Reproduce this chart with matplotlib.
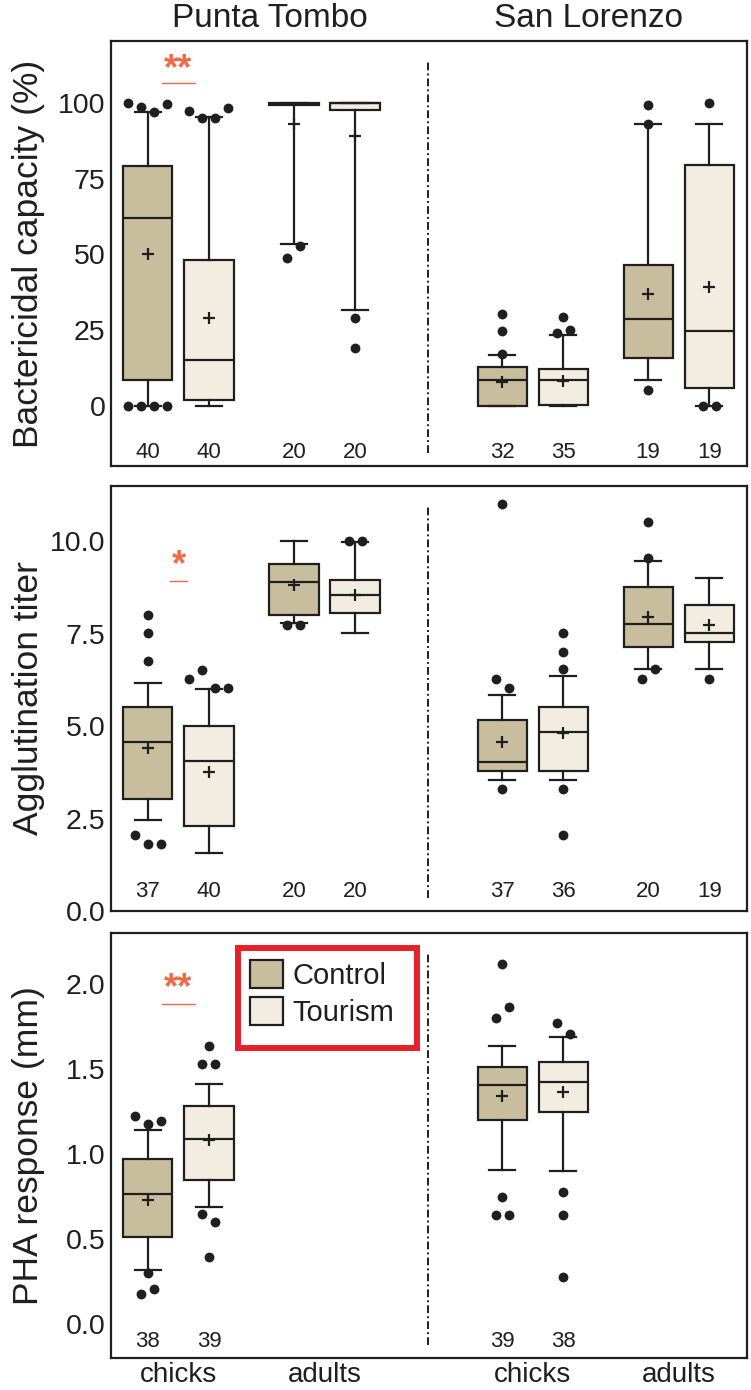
import numpy as np
import matplotlib
matplotlib.use("Agg")
import matplotlib.pyplot as plt
from matplotlib.patches import Patch, Rectangle

plt.rcParams["font.family"] = ["Liberation Sans", "DejaVu Sans"]

# ---------------------------------------------------------------
# Data (box order: PT chicks C, PT chicks T, PT adults C, PT adults T,
#                  SL chicks C, SL chicks T, SL adults C, SL adults T)
# ---------------------------------------------------------------
SITES = ["Punta Tombo", "San Lorenzo"]
AGES = ["chicks", "adults"]
TREATMENTS = ["Control", "Tourism"]

# Bactericidal capacity (%)
BKA_Q1 = [8.6, 2.0, 99.3, 97.8, 0.0, 0.2, 15.7, 5.7]
BKA_MED = [62.0, 15.0, 99.7, 100.0, 8.3, 8.3, 28.7, 24.6]
BKA_Q3 = [79.2, 48.2, 100.0, 100.0, 12.6, 12.1, 46.6, 79.5]
BKA_LO = [0.0, 0.0, 53.5, 31.5, 0.0, 0.0, 8.3, 0.0]
BKA_HI = [96.9, 95.5, 100.0, 100.0, 16.6, 23.4, 93.2, 93.0]
BKA_MEAN = [50.0, 29.0, 93.0, 89.1, 7.7, 8.0, 37.0, 39.2]
BKA_OUT = [[100.1, 98.6, 97.1, 99.6, 0, 0, 0, 0], [97.4, 95.0, 95.0, 98.2],
           [48.9, 52.6], [28.9, 19.0], [30.4, 24.8, 16.9], [29.3, 23.9, 25.0],
           [99.3, 93.0, 5.2], [99.9, 0, 0]]
BKA_N = [40, 40, 20, 20, 32, 35, 19, 19]

# Agglutination titer
AGG_Q1 = [3.04, 2.30, 8.02, 8.07, 3.79, 3.79, 7.14, 7.28]
AGG_MED = [4.56, 4.05, 8.90, 8.54, 4.04, 4.84, 7.77, 7.51]
AGG_Q3 = [5.53, 5.00, 9.39, 8.95, 5.16, 5.53, 8.76, 8.27]
AGG_LO = [2.46, 1.56, 7.78, 7.53, 3.54, 3.54, 6.54, 6.54]
AGG_HI = [6.18, 6.00, 10.0, 9.98, 5.84, 6.36, 9.47, 9.02]
AGG_MEAN = [4.42, 3.75, 8.81, 8.54, 4.56, 4.81, 7.96, 7.75]
AGG_OUT = [[8.02, 7.53, 6.77, 2.05, 1.81, 1.81], [6.29, 6.52, 6.02, 6.02],
           [7.75, 7.75], [10.0, 10.0], [11.0, 6.29, 6.03, 3.29],
           [7.53, 7.02, 6.54, 3.29, 2.05], [10.52, 9.54, 6.29, 6.54], [6.29]]
AGG_N = [37, 40, 20, 20, 37, 36, 20, 19]

# PHA response (mm) - no adults measured
PHA_Q1 = [0.514, 0.847, None, None, 1.202, 1.247, None, None]
PHA_MED = [0.765, 1.086, None, None, 1.406, 1.425, None, None]
PHA_Q3 = [0.97, 1.284, None, None, 1.514, 1.541, None, None]
PHA_LO = [0.32, 0.69, None, None, 0.906, 0.902, None, None]
PHA_HI = [1.143, 1.41, None, None, 1.637, 1.686, None, None]
PHA_MEAN = [0.73, 1.08, None, None, 1.339, 1.362, None, None]
PHA_OUT = [[1.225, 1.176, 1.196, 0.30, 0.176, 0.206],
           [1.637, 1.53, 1.53, 0.647, 0.598, 0.396], None, None,
           [2.118, 1.798, 1.866, 0.749, 0.643, 0.643],
           [1.77, 1.705, 0.774, 0.643, 0.274], None, None]
PHA_N = [38, 39, None, None, 39, 38, None, None]

PANELS = [
    dict(ylabel="Bactericidal capacity (%)", q1=BKA_Q1, med=BKA_MED, q3=BKA_Q3,
         lo=BKA_LO, hi=BKA_HI, mean=BKA_MEAN, out=BKA_OUT, n=BKA_N,
         ylim=(-20, 120.5), yticks=[0, 25, 50, 75, 100], fmt="{:.0f}",
         sig="**", sig_y=111.0, sig_line=106.7, sig_half=0.116, n_y=0.033),
    dict(ylabel="Agglutination titer", q1=AGG_Q1, med=AGG_MED, q3=AGG_Q3,
         lo=AGG_LO, hi=AGG_HI, mean=AGG_MEAN, out=AGG_OUT, n=AGG_N,
         ylim=(0, 11.5), yticks=[0, 2.5, 5.0, 7.5, 10.0], fmt="{:.1f}",
         sig="*", sig_y=9.33, sig_line=8.94, sig_half=0.058, n_y=0.045),
    dict(ylabel="PHA response (mm)", q1=PHA_Q1, med=PHA_MED, q3=PHA_Q3,
         lo=PHA_LO, hi=PHA_HI, mean=PHA_MEAN, out=PHA_OUT, n=PHA_N,
         ylim=(-0.2, 2.3), yticks=[0, 0.5, 1.0, 1.5, 2.0], fmt="{:.1f}",
         sig="**", sig_y=1.975, sig_line=1.88, sig_half=0.116, n_y=0.038),
]

# ---------------------------------------------------------------
# Layout / style
# ---------------------------------------------------------------
GROUP_X = [0.0, 1.0, 2.425, 3.425]   # PT chicks, PT adults, SL chicks, SL adults
OFFSET = 0.209
BOX_W = 0.336
CAP_W = 0.178
XLIM = (-0.462, 3.894)
SITE_SPLIT = 1.712

FILL = {"Control": "#c8bd9c", "Tourism": "#f2ede0"}
INK = "#1f1f1f"
SIG_COLOR = "#ee6a4a"
DOT_STEP_PX = 13
DOT_TOL_PX = 12

AX_LEFT, AX_WIDTH = 0.1478, 0.847
AX_BOTTOMS = [0.6647, 0.3446, 0.0230]
AX_HEIGHT = 0.3058


def box_positions():
    pos = []
    for g in GROUP_X:
        pos += [g - OFFSET, g + OFFSET]
    return pos


def spread(values, ypx, xpx):
    """Horizontal offsets for outliers that sit too close to each other."""
    values = np.asarray(values, dtype=float)
    order = np.argsort(values, kind="stable")
    groups, cur = [], [order[0]]
    for a, b in zip(order[:-1], order[1:]):
        if (values[b] - values[a]) * ypx < DOT_TOL_PX:
            cur.append(b)
        else:
            groups.append(cur)
            cur = [b]
    groups.append(cur)
    offs = np.zeros(len(values))
    for grp in groups:
        grp = sorted(grp)
        m = len(grp)
        for k, idx in enumerate(grp):
            offs[idx] = (k - (m - 1) / 2) * DOT_STEP_PX / xpx
    return offs


fig = plt.figure(figsize=(7.51, 13.9), dpi=100)
positions = box_positions()

for p, cfg in enumerate(PANELS):
    ax = fig.add_axes([AX_LEFT, AX_BOTTOMS[p], AX_WIDTH, AX_HEIGHT])
    ax.set_xlim(*XLIM)
    ax.set_ylim(*cfg["ylim"])
    xpx = ax.bbox.width / (XLIM[1] - XLIM[0])
    ypx = ax.bbox.height / (cfg["ylim"][1] - cfg["ylim"][0])

    stats, pos, colors = [], [], []
    for i in range(8):
        if cfg["q1"][i] is None:
            continue
        stats.append(dict(q1=cfg["q1"][i], med=cfg["med"][i], q3=cfg["q3"][i],
                          whislo=cfg["lo"][i], whishi=cfg["hi"][i],
                          mean=cfg["mean"][i], fliers=[]))
        pos.append(positions[i])
        colors.append(FILL[TREATMENTS[i % 2]])

    bp = ax.bxp(stats, positions=pos, widths=BOX_W, capwidths=CAP_W,
                patch_artist=True, showmeans=True, showfliers=False,
                manage_ticks=False,
                boxprops=dict(linewidth=1.6, edgecolor=INK),
                medianprops=dict(linewidth=1.6, color=INK),
                whiskerprops=dict(linewidth=1.6, color=INK),
                capprops=dict(linewidth=1.6, color=INK),
                meanprops=dict(marker="+", markeredgecolor=INK,
                               markersize=9, markeredgewidth=1.6))
    for patch, c in zip(bp["boxes"], colors):
        patch.set_facecolor(c)

    for i in range(8):
        out = cfg["out"][i]
        if not out:
            continue
        offs = spread(out, ypx, xpx)
        ax.scatter(positions[i] + offs, out, s=50, color=INK, zorder=4,
                   linewidths=0)

    for i in range(8):
        if cfg["n"][i] is None:
            continue
        ax.text(positions[i], cfg["n_y"], str(cfg["n"][i]), fontsize=16,
                color=INK, ha="center", va="center",
                transform=ax.get_xaxis_transform())

    # site separator
    ax.axvline(SITE_SPLIT, ymin=0.03, ymax=0.955, color=INK, linewidth=1.4,
               linestyle=(0, (4, 1.6, 1, 1.6)))

    # significance between chicks at Punta Tombo
    gx = GROUP_X[0]
    ax.text(gx, cfg["sig_y"], cfg["sig"], color=SIG_COLOR, fontsize=26,
            fontweight="bold", ha="center", va="center")
    ax.plot([gx - cfg["sig_half"], gx + cfg["sig_half"]],
            [cfg["sig_line"]] * 2, color=SIG_COLOR, linewidth=1.0)

    ax.set_yticks(cfg["yticks"])
    ax.set_yticklabels([cfg["fmt"].format(t) for t in cfg["yticks"]])
    ax.tick_params(axis="y", length=0, pad=4, labelsize=20.5, labelcolor=INK)
    ax.set_ylabel(cfg["ylabel"], fontsize=25.5, color=INK)
    ax.yaxis.set_label_coords(-0.103, 0.5)
    for sp in ax.spines.values():
        sp.set_linewidth(1.6)
        sp.set_color(INK)

    if p == len(PANELS) - 1:
        ax.set_xticks(GROUP_X)
        ax.set_xticklabels(AGES * 2)
        ax.tick_params(axis="x", length=0, pad=3, labelsize=20,
                       labelcolor=INK)
        # red highlight frame around the legend
        ax.add_patch(Rectangle((0.1997, 0.7294), 0.2814, 0.2353,
                               transform=ax.transAxes, facecolor="white",
                               edgecolor="#e8202a", linewidth=4.3,
                               zorder=4.5, clip_on=False))
        handles = [Patch(facecolor=FILL[t], edgecolor=INK, linewidth=1.6)
                   for t in TREATMENTS]
        leg = ax.legend(handles, TREATMENTS, loc="upper left",
                        bbox_to_anchor=(0.2186, 0.936), borderaxespad=0,
                        fontsize=21, handlelength=1.14, handleheight=1.1,
                        handletextpad=0.31, labelspacing=0.24,
                        borderpad=0, frameon=False)
        leg.set_zorder(6)
        for t in leg.get_texts():
            t.set_color(INK)
    else:
        ax.set_xticks([])

    if p == 0:
        for s, site in enumerate(SITES):
            ax.text(0.25 + 0.5 * s, 1.033, site, fontsize=24, color=INK,
                    ha="center", va="baseline", transform=ax.transAxes)

fig.savefig("out.png", dpi=100)
